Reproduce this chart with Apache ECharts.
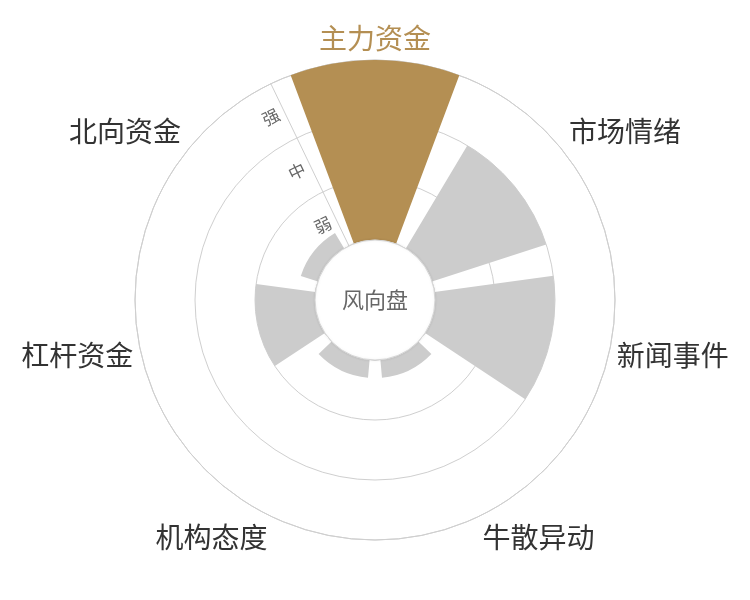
<!DOCTYPE html>
<html>
<head>
<meta charset="utf-8">
<script src="https://cdn.jsdelivr.net/npm/echarts@6/dist/echarts.min.js"></script>
<style>
html,body{margin:0;padding:0;background:#fff;}
#main{width:750px;height:600px;}
</style>
</head>
<body>
<div id="main"></div>
<script>
var categories = ['主力资金', '市场情绪', '新闻事件', '牛散异动', '机构态度', '杠杆资金', '北向资金'];
var values = [3, 2, 2, 0.3, 0.3, 1, 0.3];
var levelLabels = ['弱', '中', '强'];
var highlightIndex = 0;
var centerText = '风向盘';

var gold = '#b48f53';
var gray = '#cccccc';
var lineColor = '#cfcfcf';
var fontFamily = '"Noto Sans CJK SC", "Noto Sans", sans-serif';
var step = 360 / categories.length;
var startAngle = 90 + step / 2;

var chart = echarts.init(document.getElementById('main'));
chart.setOption({
  backgroundColor: '#ffffff',
  animation: false,
  polar: [
    { center: ['50%', '50%'], radius: ['20%', '80%'] },
    { center: ['50%', '50%'], radius: ['20%', '80%'] }
  ],
  angleAxis: [
    {
      polarIndex: 0,
      type: 'category',
      data: categories,
      startAngle: startAngle,
      clockwise: true,
      axisLine: { show: true, lineStyle: { color: lineColor, width: 1 } },
      axisTick: { show: false },
      splitLine: { show: false },
      axisLabel: {
        show: true,
        margin: 8,
        fontSize: 28,
        fontFamily: fontFamily,
        color: '#333333',
        formatter: function (value, index) {
          var i = categories.indexOf(value);
          return i === highlightIndex ? '{hl|' + value + '}' : '{nm|' + value + '}';
        },
        rich: {
          hl: { color: gold, fontSize: 28, fontFamily: fontFamily },
          nm: { color: '#333333', fontSize: 28, fontFamily: fontFamily }
        }
      },
      z: 0
    },
    {
      polarIndex: 1,
      type: 'category',
      data: categories,
      startAngle: startAngle,
      clockwise: true,
      axisLine: { show: false },
      axisTick: { show: false },
      splitLine: { show: false },
      axisLabel: { show: false }
    }
  ],
  radiusAxis: [
    {
      polarIndex: 0,
      type: 'category',
      data: levelLabels,
      axisLine: { show: true, lineStyle: { color: lineColor, width: 1 } },
      axisTick: { show: false },
      splitLine: { show: true, lineStyle: { color: lineColor, width: 1 } },
      axisLabel: {
        show: true,
        rotate: step / 2,
        fontSize: 17,
        fontFamily: fontFamily,
        color: '#666666',
        margin: 6
      },
      z: 0
    },
    {
      polarIndex: 1,
      type: 'value',
      min: 0,
      max: 3,
      axisLine: { show: false },
      axisTick: { show: false },
      splitLine: { show: false },
      axisLabel: { show: false }
    }
  ],
  series: [
    {
      type: 'bar',
      coordinateSystem: 'polar',
      polarIndex: 1,
      barCategoryGap: '20%',
      data: values.map(function (v, i) {
        return { value: v, itemStyle: { color: i === highlightIndex ? gold : gray } };
      }),
      silent: true,
      z: 2
    },
    {
      type: 'pie',
      center: ['50%', '50%'],
      radius: [0, '20%'],
      silent: true,
      z: 5,
      itemStyle: {
        color: '#ffffff',
        borderColor: '#d6d6d6',
        borderWidth: 1,
        shadowColor: 'rgba(0,0,0,0.08)',
        shadowBlur: 3
      },
      label: {
        show: true,
        position: 'center',
        formatter: centerText,
        fontSize: 22,
        fontFamily: fontFamily,
        color: '#666666'
      },
      labelLine: { show: false },
      data: [{ value: 1, name: centerText }]
    }
  ]
});
</script>
</body>
</html>
